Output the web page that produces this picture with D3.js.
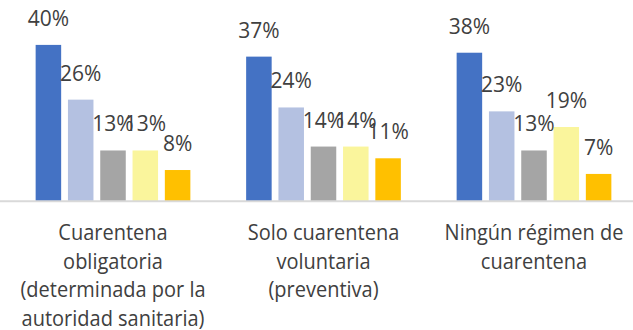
<!DOCTYPE html>
<html>
<head>
<meta charset="utf-8">
<script src="https://cdn.jsdelivr.net/npm/d3@7"></script>
<style>
  html, body { margin: 0; padding: 0; background: #ffffff; }
  svg { display: block; }
  text { font-family: "Open Sans", "Noto Sans", sans-serif; fill: #404040; }
</style>
</head>
<body>
<svg id="chart" width="633" height="330"></svg>
<script>
// Quarantine regime groups (category axis), one label line per entry
const categories = [
  ["Cuarentena", "obligatoria", "(determinada por la", "autoridad sanitaria)"],
  ["Solo cuarentena", "voluntaria", "(preventiva)"],
  ["Ningún régimen de", "cuarentena"]
];

// Five response series, values in percent per group
const seriesA = [40, 37, 38];
const seriesB = [26, 24, 23];
const seriesC = [13, 14, 13];
const seriesD = [13, 14, 19];
const seriesE = [8, 11, 7];

const seriesColors = ["#4472C4", "#B4C1E1", "#A5A5A5", "#FAF59C", "#FFC000"];

const W = 633, H = 330;
const baseline = 201.3;
const series = [seriesA, seriesB, seriesC, seriesD, seriesE];

const svg = d3.select("#chart");

const x0 = d3.scaleBand()
  .domain(d3.range(categories.length))
  .range([7.75, 639.25])
  .paddingInner(0)
  .paddingOuter(0);

const x1 = d3.scaleBand()
  .domain(d3.range(series.length))
  .range([-80.75, 80.75])
  .paddingInner(0.21)
  .paddingOuter(0.105);

const y = d3.scaleLinear()
  .domain([0, 40])
  .range([baseline, baseline - 40 * 3.91]);

const groups = svg.selectAll("g.group")
  .data(categories)
  .join("g")
  .attr("class", "group")
  .attr("transform", (d, i) => `translate(${x0(i) + x0.bandwidth() / 2},0)`);

// bars
groups.each(function (cat, gi) {
  const g = d3.select(this);
  const rows = series.map((s, si) => ({ si, v: s[gi] }));
  g.selectAll("rect")
    .data(rows)
    .join("rect")
    .attr("x", d => x1(d.si))
    .attr("width", x1.bandwidth())
    .attr("y", d => y(d.v))
    .attr("height", d => y(0) - y(d.v))
    .attr("fill", d => seriesColors[d.si]);

  // value labels above each bar (slightly tall glyphs)
  g.selectAll("text.val")
    .data(rows)
    .join("text")
    .attr("class", "val")
    .attr("transform", d => `translate(${x1(d.si) + x1.bandwidth() / 2},${y(d.v) - 19}) scale(1,1.06)`)
    .attr("text-anchor", "middle")
    .style("font-size", "21px")
    .text(d => d.v + "%");
});

// category axis line
svg.append("line")
  .attr("x1", 0).attr("x2", W)
  .attr("y1", baseline).attr("y2", baseline)
  .attr("stroke", "#D9D9D9")
  .attr("stroke-width", 2);

// multi-line category labels
groups.each(function (cat) {
  const g = d3.select(this);
  cat.forEach((line, li) => {
    g.append("text")
      .attr("text-anchor", "middle")
      .attr("transform", `translate(0,${240 + li * 28.5}) scale(1,1.12)`)
      .style("font-size", "20px")
      .text(line);
  });
});
</script>
</body>
</html>
